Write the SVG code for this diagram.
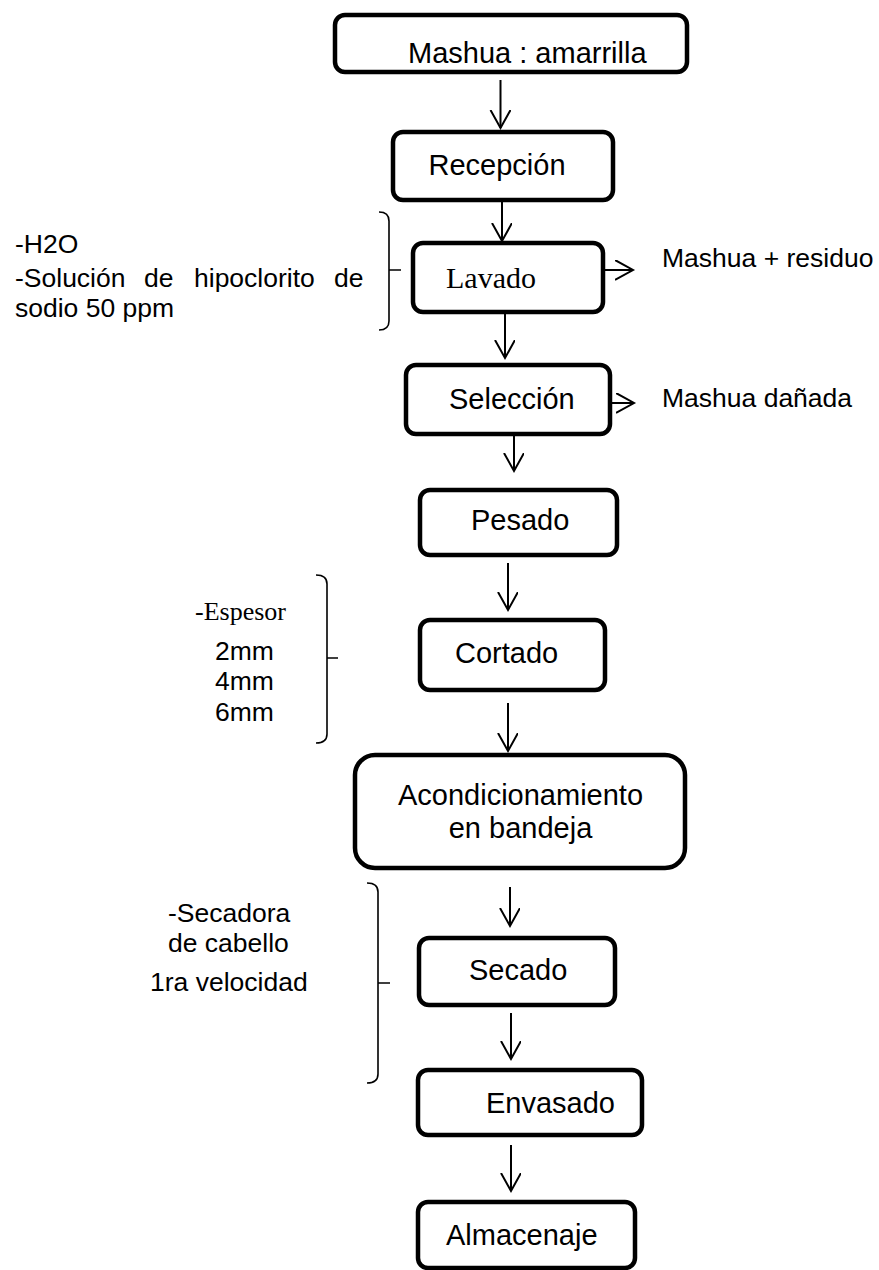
<svg xmlns="http://www.w3.org/2000/svg" width="879" height="1270" viewBox="0 0 879 1270">
<style>
.box{fill:#fff;stroke:#000;stroke-width:4.5}
.t{font-family:"Liberation Sans",Arial,sans-serif;font-size:29px;fill:#000}
.s{font-family:"Liberation Sans",Arial,sans-serif;font-size:26.5px;fill:#000}
.tr{font-family:"Liberation Serif","Times New Roman",serif;fill:#000}
.c{fill:none;stroke:#000;stroke-width:2}
.b{fill:none;stroke:#000;stroke-width:1.6}
</style>
<defs>
<marker id="ah" markerWidth="24" markerHeight="24" refX="18" refY="10" orient="auto" markerUnits="userSpaceOnUse">
<path d="M0,0 L18,10 L0,20" fill="none" stroke="#000" stroke-width="2"/>
</marker>
</defs>
<rect width="879" height="1270" fill="#fff"/>
<g id="connectors">
<line class="c" x1="500.5" y1="80" x2="500.5" y2="128" marker-end="url(#ah)"/>
<line class="c" x1="502" y1="200" x2="502" y2="241" marker-end="url(#ah)"/>
<line class="c" x1="505" y1="312" x2="505" y2="358" marker-end="url(#ah)"/>
<line class="c" x1="514" y1="423" x2="514" y2="471" marker-end="url(#ah)"/>
<line class="c" x1="508" y1="563" x2="508" y2="610" marker-end="url(#ah)"/>
<line class="c" x1="508" y1="703" x2="508" y2="751" marker-end="url(#ah)"/>
<line class="c" x1="510" y1="887" x2="510" y2="926" marker-end="url(#ah)"/>
<line class="c" x1="511" y1="1013" x2="511" y2="1059" marker-end="url(#ah)"/>
<line class="c" x1="511" y1="1145" x2="511" y2="1191" marker-end="url(#ah)"/>
<line class="c" x1="604" y1="270" x2="633" y2="270" marker-end="url(#ah)"/>
<line class="c" x1="608" y1="403" x2="634" y2="403" marker-end="url(#ah)"/>
</g>
<g id="brackets">
<path class="b" d="M379,212 Q389,212 389,221 V321 Q389,330 379,330 M389,270 H401"/>
<path class="b" d="M316,575 Q327,575 327,584 V734 Q327,743 316,743 M327,658 H338"/>
<path class="b" d="M367,883 Q378,883 378,892 V1074 Q378,1083 367,1083 M378,983 H390"/>
</g>
<g id="n1"><rect class="box" x="335" y="15" width="352" height="57" rx="10"/><text class="t" x="408" y="63">Mashua : amarrilla</text></g>
<g id="n2"><rect class="box" x="393" y="132" width="220" height="68" rx="10"/><text class="t" x="497" y="175" text-anchor="middle">Recepción</text></g>
<g id="n3"><rect class="box" x="413" y="243" width="190" height="69" rx="10"/><text class="tr" x="491" y="288" font-size="30" text-anchor="middle">Lavado</text></g>
<g id="n4"><rect class="box" x="406" y="365" width="204" height="69" rx="10"/><text class="t" x="449" y="409">Selección</text></g>
<g id="n5"><rect class="box" x="420" y="490" width="197" height="65" rx="10"/><text class="t" x="471" y="530" font-size="26.5">Pesado</text></g>
<g id="n6"><rect class="box" x="420" y="620" width="185" height="70" rx="10"/><text class="t" x="455" y="663">Cortado</text></g>
<g id="n7"><rect class="box" x="355" y="755" width="330" height="113" rx="20"/><text class="t" x="520.5" y="805" text-anchor="middle">Acondicionamiento</text><text class="t" x="520.5" y="838" text-anchor="middle">en bandeja</text></g>
<g id="n8"><rect class="box" x="419" y="938" width="196" height="67" rx="10"/><text class="t" x="469" y="980">Secado</text></g>
<g id="n9"><rect class="box" x="418" y="1070" width="224" height="65" rx="10"/><text class="t" x="486" y="1113">Envasado</text></g>
<g id="n10"><rect class="box" x="418" y="1202" width="217" height="66" rx="10"/><text class="t" x="446" y="1245">Almacenaje</text></g>
<g id="lbl-lavado-in"><text class="s"><tspan x="15" y="253">-H2O</tspan><tspan x="15" y="287">-Solución</tspan><tspan x="144" y="287">de</tspan><tspan x="194" y="287">hipoclorito</tspan><tspan x="334" y="287">de</tspan><tspan x="15" y="317">sodio 50 ppm</tspan></text></g>
<g id="lbl-lavado-out"><text class="s" x="662" y="267">Mashua + residuo</text></g>
<g id="lbl-seleccion-out"><text class="s" x="662" y="407">Mashua dañada</text></g>
<g id="lbl-cortado"><text class="tr" x="195" y="620" font-size="26">-Espesor</text><text class="s"><tspan x="215" y="660">2mm</tspan><tspan x="215" y="690">4mm</tspan><tspan x="215" y="721">6mm</tspan></text></g>
<g id="lbl-secado"><text class="s"><tspan x="168" y="922">-Secadora</tspan><tspan x="168" y="952">de cabello</tspan><tspan x="150" y="991">1ra velocidad</tspan></text></g>
</svg>
